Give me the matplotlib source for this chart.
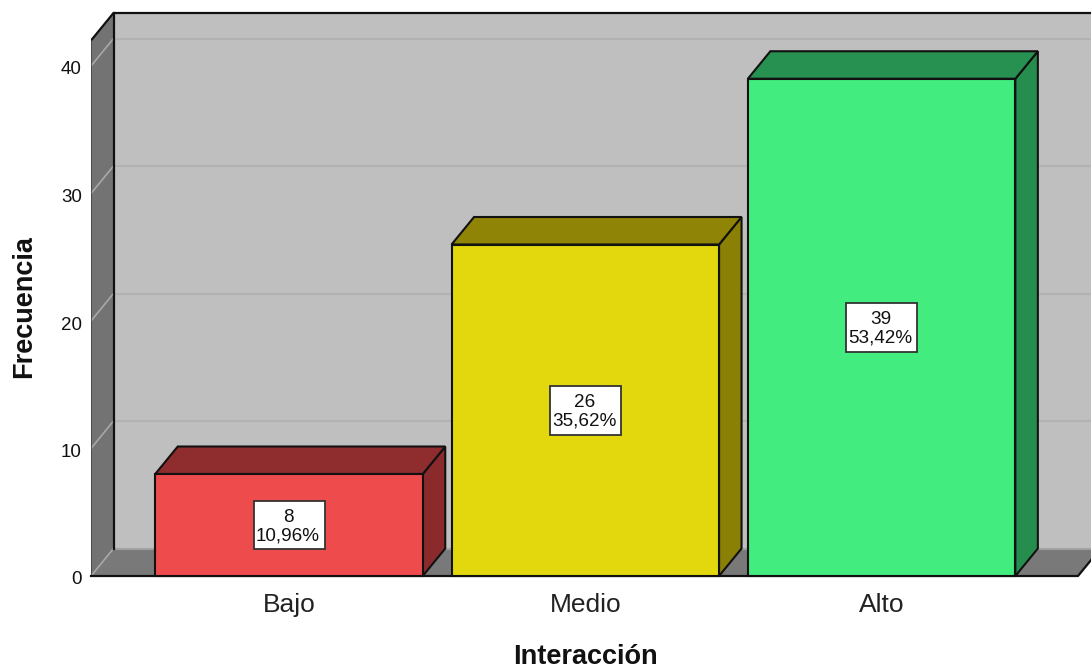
import matplotlib
matplotlib.use("Agg")
import matplotlib.pyplot as plt
from matplotlib.patches import Polygon, Rectangle
from matplotlib.transforms import ScaledTranslation

plt.rcParams['font.family'] = ['Liberation Sans', 'DejaVu Sans']

# Survey results
categories = ["Bajo", "Medio", "Alto"]
counts = [8, 26, 39]
percents = ["10,96%", "35,62%", "53,42%"]
y_ticks = [0, 10, 20, 30, 40]

front_colors = ["#ee4b4d", "#e3d80d", "#42ec7f"]
top_colors = ["#8e2c2e", "#8f8406", "#269150"]
side_colors = ["#8a2a2c", "#8b8006", "#258e4e"]

W, H = 1091, 669
fig = plt.figure(figsize=(W / 100, H / 100), dpi=100, facecolor="white")
ax = fig.add_axes([91 / W, 93 / H, 1000 / W, 576 / H])

# Axis scales: one category step and one count unit in pixels
step_px = 296.3
unit_px = 12.75
center0_px = 289
ax.set_xlim((91 - center0_px) / step_px, (1091 - center0_px) / step_px)
ax.set_ylim(0, 576 / unit_px)
ax.patch.set_visible(False)
for s in ax.spines.values():
    s.set_visible(False)

# Oblique depth of the pseudo-3D box
dx = 22.5 / step_px
dy = 27.5 / unit_px
bar_w = 267.5 / step_px
box_w = 71 / step_px
box_h = 48.5 / unit_px
ink = "#111111"
x0 = ax.get_xlim()[0]
x1 = x0 + 987 / step_px
wall_top = 42.0


def poly(points, face, edge=ink, lw=1.5, z=1):
    ax.add_patch(Polygon(points, closed=True, facecolor=face, edgecolor=edge,
                         linewidth=lw, joinstyle="miter", zorder=z, clip_on=False))


# Back wall, side wall and floor
poly([(x0 + dx, dy), (x1 + 2 * dx, dy), (x1 + 2 * dx, wall_top + dy), (x0 + dx, wall_top + dy)],
     "#bfbfbf", edge="none", z=1)
poly([(x0, 0), (x1, 0), (x1 + dx, dy), (x0 + dx, dy)], "#797979", edge="none", z=2)
poly([(x0, 0), (x0 + dx, dy), (x0 + dx, wall_top + dy), (x0, wall_top)], "#737373", edge="none", z=2)

ax.plot([x0 + dx, x1 + 2 * dx], [dy, dy], color="#a2a2a2", lw=1.5, zorder=3)

# Gridlines run along the back wall and fold down the side wall
for t in y_ticks:
    if t > 0:
        ax.plot([x0 + dx, x1 + 2 * dx], [t + dy, t + dy], color="#b2b2b2", lw=1.5, zorder=3)
    ax.plot([x0, x0 + dx], [t, t + dy], color="#a8a8a8", lw=1.2, zorder=3)

# Box outlines
ax.plot([x0 + dx, x0 + dx], [dy, wall_top + dy], color=ink, lw=1.6, zorder=4)
ax.plot([x0, x0 + dx, x1 + 2 * dx], [wall_top, wall_top + dy, wall_top + dy], color=ink, lw=1.6, zorder=4)
ax.plot([x0, x0], [0, wall_top], color="#444444", lw=1.2, zorder=4)
ax.plot([x0, x1, x1 + dx], [0, 0, dy], color=ink, lw=1.6, zorder=4, clip_on=False)

# Bars with their top and side faces and a value box centred on the front
for i, v in enumerate(counts):
    left, right = i - bar_w / 2, i + bar_w / 2
    poly([(right, 0), (right + dx, dy), (right + dx, v + dy), (right, v)], side_colors[i], z=5)
    poly([(left, v), (right, v), (right + dx, v + dy), (left + dx, v + dy)], top_colors[i], z=5)
    poly([(left, 0), (right, 0), (right, v), (left, v)], front_colors[i], z=6)
    ax.add_patch(Rectangle((i - box_w / 2, v / 2 - box_h / 2), box_w, box_h, facecolor="white",
                           edgecolor="#333333", linewidth=1.3, zorder=7))
    ax.text(i - 1 / step_px, v / 2 - 1.5 / unit_px, f"{v}\n{percents[i]}", ha="center", va="center",
            ma="center", fontsize=13.6, linespacing=1.12, color="#111111", zorder=8)

ax.set_xticks(range(len(categories)), categories)
ax.set_yticks(y_ticks)
ax.tick_params(axis="x", length=0, pad=12, labelsize=19, labelcolor="#222222")
ax.tick_params(axis="y", length=0, pad=6.5, labelsize=13.5, labelcolor="#111111")

# Numeric labels sit slightly below their gridline
for lab in ax.get_yticklabels():
    lab.set_transform(lab.get_transform() + ScaledTranslation(0, -2 / 100, fig.dpi_scale_trans))

ax.set_xlabel("Interacción", fontsize=19.5, fontweight="bold", color="#111111", va="center")
ax.xaxis.set_label_coords((585 - 91) / 1000, (576 - 656.5) / 576)
ax.set_ylabel("Frecuencia", fontsize=19.5, fontweight="bold", color="#111111", va="center")
ax.yaxis.set_label_coords((24 - 91) / 1000, (576 - 307) / 576)

fig.savefig("out.png", dpi=100, facecolor="white")
